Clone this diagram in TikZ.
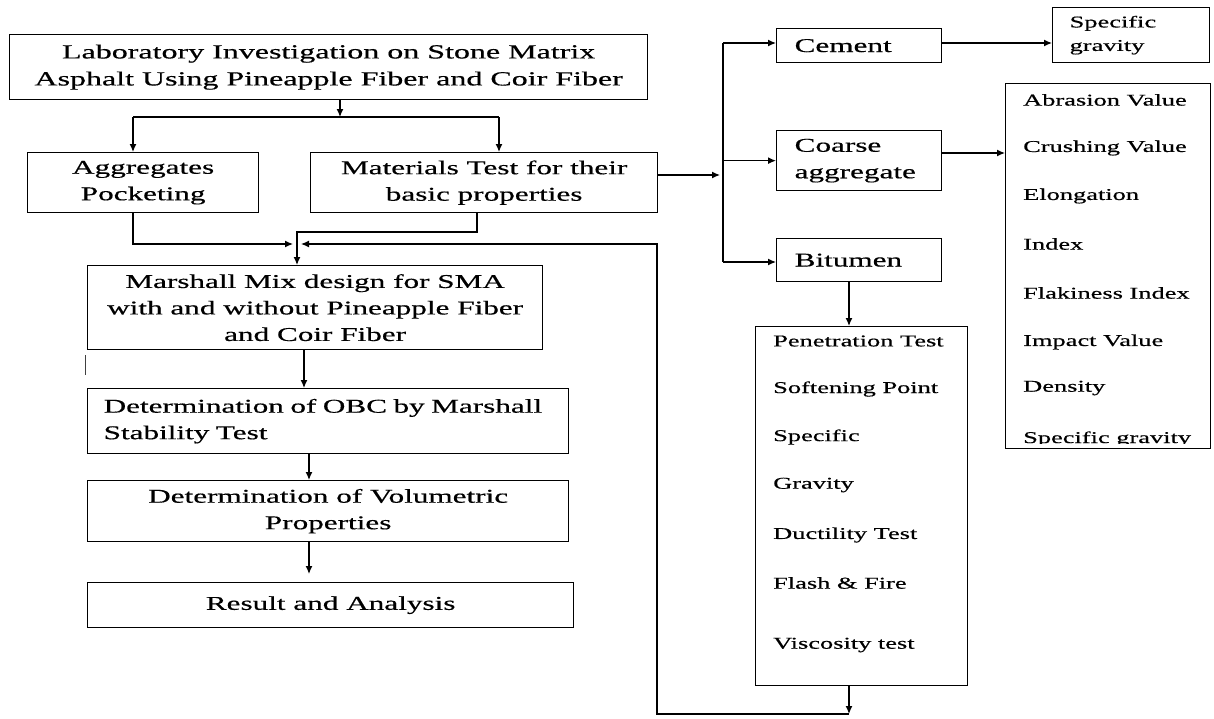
\documentclass[tikz,border=0pt]{standalone}
\usepackage{fontspec}
\setmainfont{Liberation Serif}[FakeStretch=1.6,FakeBold=0.5]
\usetikzlibrary{arrows.meta,calc}
\newcommand\mainsz{\fontsize{19.5}{26.5}\selectfont}
\newcommand\topsz{\fontsize{20}{27}\selectfont}
\newcommand\listsz{\fontsize{16.5}{23.5}\selectfont}
\tikzset{
  box/.style={draw=black, line width=1.3pt, anchor=north west, inner sep=0pt, font=\mainsz, align=center},
  lbox/.style={box, align=left},
  arr/.style={line width=1.3pt, -{Latex[length=8pt,width=7pt]}},
  ln/.style={line width=1.3pt},
  item/.style={anchor=west, inner sep=0pt, font=\listsz},
}
\begin{document}
\begin{tikzpicture}[x=1pt,y=-1pt]
\useasboundingbox (0,0) rectangle (1214,718);
% left column
\node[box, font=\topsz, minimum width=638pt, minimum height=65pt] (top) at (9,34)
  {Laboratory Investigation on Stone Matrix\\Asphalt Using Pineapple Fiber and Coir Fiber};
\node[box, minimum width=231pt, minimum height=60pt] (agg) at (27,152) {Aggregates\\Pocketing};
\node[box, minimum width=347pt, minimum height=60pt] (mat) at (310,152) {Materials Test for their\\basic properties};
\node[box, minimum width=455pt, minimum height=84pt] (mar) at (87,265)
  {Marshall Mix design for SMA\\with and without Pineapple Fiber\\and Coir Fiber};
\node[lbox, text width=449pt, inner xsep=16pt, minimum height=65pt] (obc) at (87,388)
  {Determination of OBC by Marshall\\Stability Test};
\node[box, minimum width=481pt, minimum height=61pt] (vol) at (87,480) {Determination of Volumetric\\Properties};
\node[box, minimum width=486pt, minimum height=45pt] (res) at (87,582) {Result and Analysis};
% right part
\node[lbox, text width=129pt, inner xsep=18pt, minimum height=34pt] (cem) at (776,28) {Cement};
\node[lbox, text width=129pt, inner xsep=18pt, minimum height=60pt] (coa) at (776,130) {Coarse\\aggregate};
\node[lbox, text width=129pt, inner xsep=18pt, minimum height=43pt] (bit) at (776,238) {Bitumen};
\node[lbox, font=\listsz, text width=123pt, inner xsep=17pt, minimum height=55pt] (spg) at (1052,7) {Specific\\gravity};
\node[box, minimum width=205pt, minimum height=365pt] (cta) at (1005,83) {};
\node[box, minimum width=212pt, minimum height=359pt] (bta) at (755,326) {};
% coarse aggregate tests
\node[item] (ct1) at (1023,100) {Abrasion Value};
\node[item] (ct2) at (1023,148) {Crushing Value};
\node[item] (ct3) at (1023,196) {Elongation};
\node[item] (ct4) at (1023,244) {Index};
\node[item] (ct5) at (1023,293) {Flakiness Index};
\node[item] (ct6) at (1023,342) {Impact Value};
\node[item] (ct7) at (1023,388) {Density};
\begin{scope}
\clip (1005,83) rectangle (1210,443);
\node[item] (ct8) at (1023,439) {Specific gravity};
\end{scope}
% bitumen tests
\node[item] (bt1) at (773,341) {Penetration Test};
\node[item] (bt2) at (773,389) {Softening Point};
\node[item] (bt3) at (773,437) {Specific};
\node[item] (bt4) at (773,485) {Gravity};
\node[item] (bt5) at (773,535) {Ductility Test};
\node[item] (bt6) at (773,583) {Flash \& Fire};
\node[item] (bt7) at (773,645) {Viscosity test};
% stray mark
\draw[line width=1pt, black!75] (85,355) -- (85,375);
% connectors: top split
\coordinate (j0) at (340,117);
\coordinate (jl) at (133,117);
\coordinate (jr) at (499,117);
\draw[arr] (top.south -| j0) -- (j0);
\draw[ln] (jl) -- (jr);
\draw[arr] (jl) -- (jl |- agg.north);
\draw[arr] (jr) -- (jr |- mat.north);
% into Marshall
\coordinate (m1) at (133,244);
\coordinate (inL) at (293,244);
\coordinate (inR) at (301,244);
\draw[arr] (agg.south -| m1) -- (m1) -- (inL);
\coordinate (m2) at (477,232);
\coordinate (m3) at (297,232);
\draw[arr] (mat.south -| m2) -- (m2) -- (m3) -- (m3 |- mar.north);
% loop back from bitumen tests
\coordinate (lp1) at (849,714);
\coordinate (lp2) at (657,714);
\draw[arr] (bta.south -| lp1) -- (lp1);
\draw[arr] (lp1) -- (lp2) -- (lp2 |- inR) -- (inR);
% left chain
\draw[arr] ($(mar.south west)+(217,0)$) -- ($(obc.north west)+(217,0)$);
\draw[arr] ($(obc.south west)+(222,0)$) -- ($(vol.north west)+(222,0)$);
\draw[arr] ($(vol.south west)+(222,0)$) -- ($(res.north west)+(222,-8)$);
% materials to right
\coordinate (vtip) at (720,175);
\draw[arr] ($(mat.north east)+(0,23)$) -- (vtip);
\coordinate (vt) at (723,43);
\coordinate (vb) at (723,262);
\draw[ln] (vt) -- (vb);
\draw[arr] (vt) -- (vt -| cem.west);
\draw[arr] (vt |- coa.west) -- (coa.west);
\draw[arr] (vb) -- (vb -| bit.west);
\draw[arr] (cem.east |- vt) -- (spg.west |- vt);
\coordinate (ca) at ($(coa.north east)+(0,23)$);
\draw[arr] (ca) -- (ca -| cta.west);
\draw[arr] (bit.south -| lp1) -- (bta.north -| lp1);
\end{tikzpicture}
\end{document}
